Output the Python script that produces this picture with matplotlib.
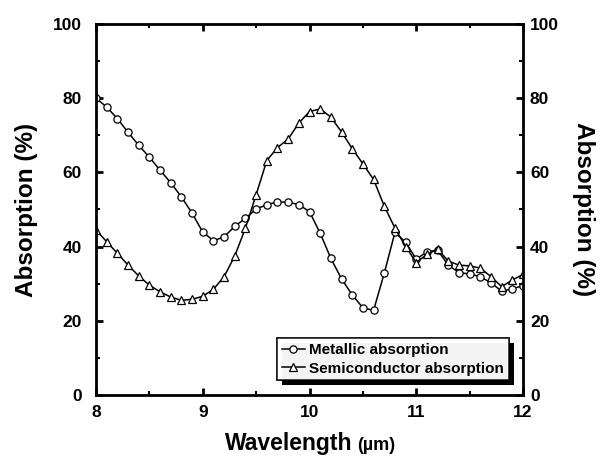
import numpy as np
import matplotlib.pyplot as plt
import matplotlib.patheffects as pe
from matplotlib.ticker import MultipleLocator

plt.rcParams['font.family'] = ['Liberation Sans', 'DejaVu Sans']
plt.rcParams['font.weight'] = 'bold'

wavelength = np.round(np.arange(8.0, 12.01, 0.1), 1)

metallic = [80.0, 77.6, 74.5, 70.8, 67.3, 64.1, 60.6, 57.2, 53.4, 49.0,
            43.9, 41.6, 42.6, 45.5, 47.6, 50.1, 51.3, 52.0, 52.0, 51.3,
            49.4, 43.6, 36.8, 31.3, 27.0, 23.5, 22.8, 32.8, 43.8, 41.2,
            36.6, 38.6, 39.0, 35.0, 33.0, 32.6, 31.9, 30.2, 28.0, 28.6,
            29.5]

semiconductor = [44.5, 41.3, 38.2, 35.0, 32.1, 29.6, 27.8, 26.4, 25.5, 25.8,
                 26.6, 28.5, 31.9, 37.5, 45.0, 54.0, 63.2, 66.7, 69.0, 73.3,
                 76.4, 77.1, 74.9, 70.9, 66.4, 62.3, 58.1, 50.9, 45.0, 40.0,
                 35.7, 37.9, 39.3, 36.1, 35.0, 34.8, 34.2, 31.9, 29.2, 31.0,
                 32.5]

fig = plt.figure(figsize=(6.05, 4.58), dpi=100)
ax = fig.add_axes([0.1587, 0.1376, 0.7058, 0.81])

ax.plot(wavelength, metallic, color='k', lw=1.1, marker='o', ms=5.2,
        mfc='white', mec='k', mew=0.9, label='Metallic absorption')
ax.plot(wavelength, semiconductor, color='k', lw=1.1, marker='^', ms=5.8,
        mfc='white', mec='k', mew=0.9, label='Semiconductor absorption')

ax.set_xlim(8, 12)
ax.set_ylim(0, 100)
ax.xaxis.set_major_locator(MultipleLocator(1))
ax.xaxis.set_minor_locator(MultipleLocator(0.5))
ax.yaxis.set_major_locator(MultipleLocator(20))
ax.yaxis.set_minor_locator(MultipleLocator(10))

for s in ax.spines.values():
    s.set_linewidth(2.0)

ax2 = ax.twinx()
ax2.set_ylim(0, 100)
ax2.yaxis.set_major_locator(MultipleLocator(20))
ax2.yaxis.set_minor_locator(MultipleLocator(10))

for a in (ax, ax2):
    a.tick_params(which='major', direction='in', length=5, width=2,
                  labelsize=12.5, top=True)
    a.tick_params(which='minor', direction='in', length=3, width=1.5, top=True)
ax.tick_params(axis='x', pad=7)
ax.tick_params(axis='y', right=False, pad=10)
ax2.tick_params(axis='y', left=False, pad=5)

ax.set_ylabel('Absorption (%)', fontsize=17.5, fontweight='bold')
ax.yaxis.set_label_coords(-0.135, 0.5)
ax2.set_ylabel('Absorption (%)', fontsize=17.5, fontweight='bold', rotation=270)
ax2.yaxis.set_label_coords(1.168, 0.5)

# x label: unit part is set smaller than the word
ax.text(0.601, -0.148, 'Wavelength', transform=ax.transAxes, ha='right',
        va='baseline', fontsize=16.5, fontweight='bold')
ax.text(0.611, -0.148, '(\u00b5m)', transform=ax.transAxes, ha='left',
        va='baseline', fontsize=13, fontweight='bold')

leg = ax.legend(loc='lower right', bbox_to_anchor=(0.967, 0.04), fontsize=11,
                frameon=True, fancybox=False, edgecolor='k', handlelength=1.5,
                handletextpad=0.3, borderpad=0.3, labelspacing=0.3,
                borderaxespad=0.0)
frame = leg.get_frame()
frame.set_linewidth(1.2)
frame.set_path_effects([pe.withSimplePatchShadow(offset=(3.5, -3.5),
                                                 shadow_rgbFace='k', alpha=1.0),
                        pe.Normal()])

fig.savefig('out.png', dpi=100)
